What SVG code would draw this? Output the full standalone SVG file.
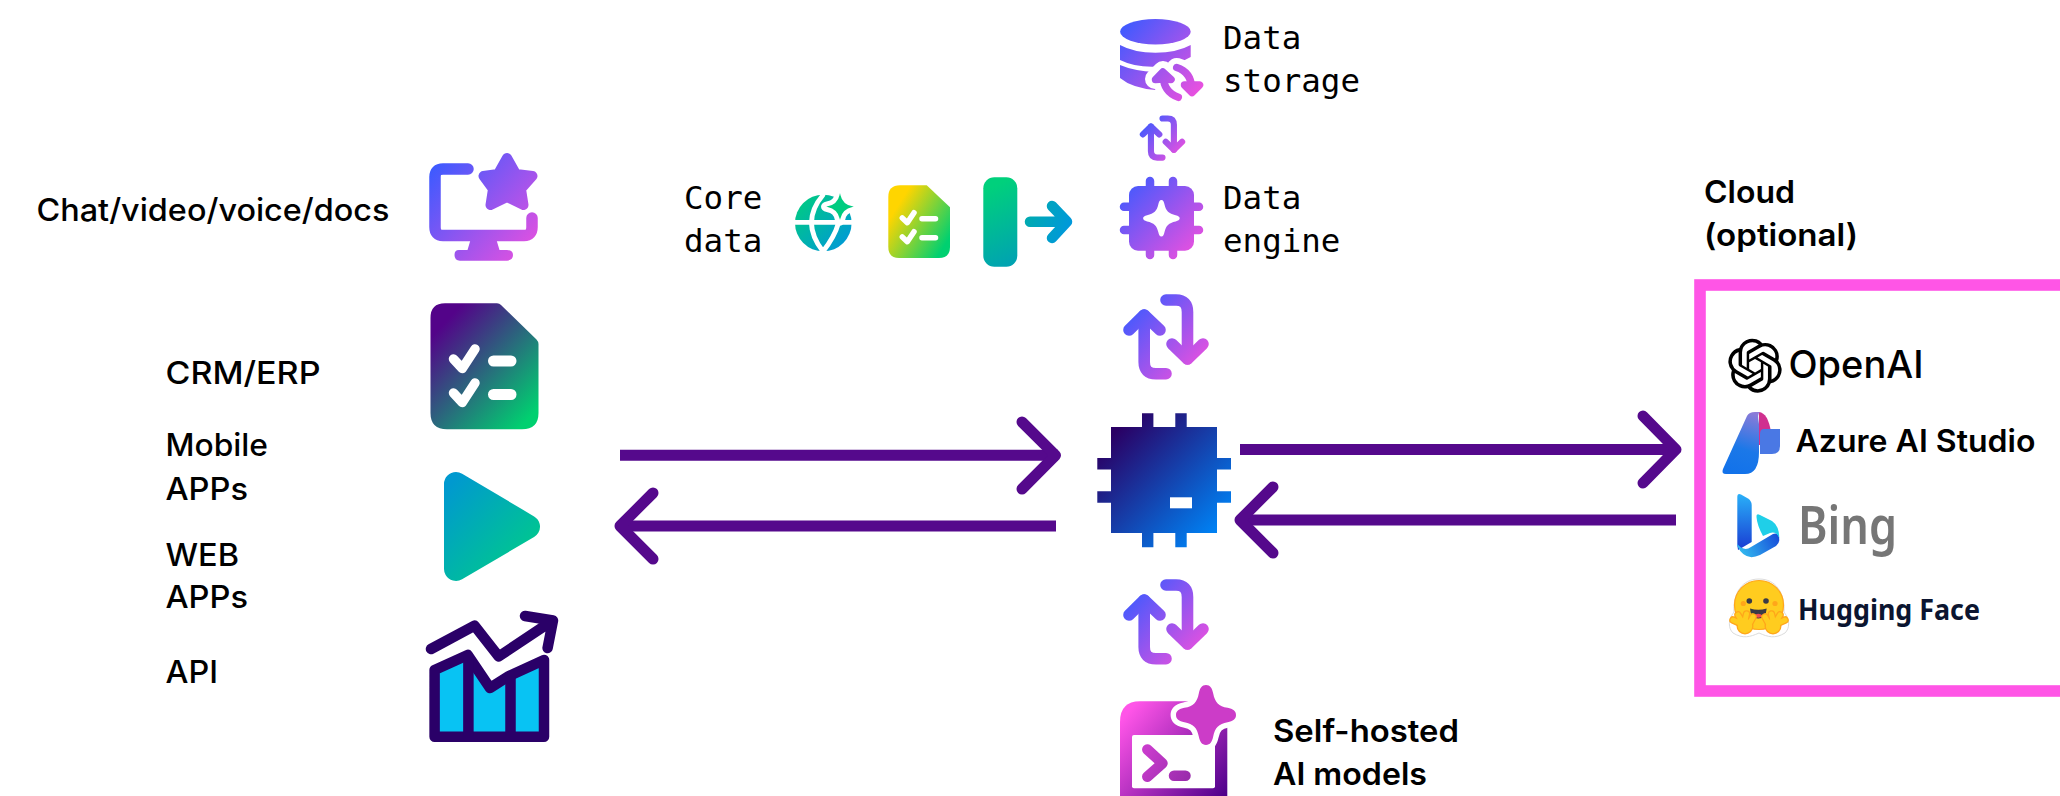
<svg xmlns="http://www.w3.org/2000/svg" xmlns:xlink="http://www.w3.org/1999/xlink" width="2060" height="796" viewBox="0 0 2060 796">
<style>
text{fill:#000;font-family:"Inter","Liberation Sans",sans-serif}
.reg{font-size:31px;font-weight:500}
.mono{font-family:"DejaVu Sans Mono","Liberation Mono",monospace;font-size:32.5px;font-weight:400}
.bold{font-size:31px;font-weight:600}
.arrow{fill:none;stroke:#55098c;stroke-width:11;stroke-linecap:round;stroke-linejoin:round}
.shaft{fill:none;stroke:#55098c;stroke-width:11}
.rs{fill:none;stroke-linecap:round;stroke-linejoin:round}
.wh{fill:none;stroke:#fff;stroke-linecap:round;stroke-linejoin:round}
</style>
<defs>
<linearGradient id="gMon" gradientUnits="userSpaceOnUse" x1="430" y1="170" x2="535" y2="262"><stop offset="0" stop-color="#3d5aff"/><stop offset="1" stop-color="#ee50de"/></linearGradient>
<linearGradient id="gDoc" gradientUnits="userSpaceOnUse" x1="438" y1="320" x2="535" y2="412"><stop offset=".05" stop-color="#530389"/><stop offset="1" stop-color="#00d070"/></linearGradient>
<linearGradient id="gPlay" gradientUnits="userSpaceOnUse" x1="444" y1="490" x2="530" y2="570"><stop offset="0" stop-color="#0099cf"/><stop offset="1" stop-color="#00cc88"/></linearGradient>
<linearGradient id="gGlobe" gradientUnits="userSpaceOnUse" x1="798" y1="198" x2="850" y2="250"><stop offset="0" stop-color="#00cc80"/><stop offset="1" stop-color="#0095de"/></linearGradient>
<linearGradient id="gDoc2" gradientUnits="userSpaceOnUse" x1="892" y1="205" x2="948" y2="240"><stop offset=".08" stop-color="#ffd500"/><stop offset="1" stop-color="#00d070"/></linearGradient>
<linearGradient id="gBar" gradientUnits="userSpaceOnUse" x1="985" y1="190" x2="1018" y2="262"><stop offset="0" stop-color="#00d07c"/><stop offset="1" stop-color="#00a2b2"/></linearGradient>
<linearGradient id="gOut" gradientUnits="userSpaceOnUse" x1="1027" y1="215" x2="1069" y2="232"><stop offset="0" stop-color="#00aab0"/><stop offset="1" stop-color="#0098dc"/></linearGradient>
<linearGradient id="gStore" gradientUnits="userSpaceOnUse" x1="1122" y1="25" x2="1200" y2="95"><stop offset="0" stop-color="#3d5aff"/><stop offset="1" stop-color="#ee50de"/></linearGradient>
<linearGradient id="gEng" gradientUnits="userSpaceOnUse" x1="1124" y1="182" x2="1198" y2="254"><stop offset="0" stop-color="#3d5aff"/><stop offset="1" stop-color="#ee50de"/></linearGradient>
<linearGradient id="gSwap" gradientUnits="userSpaceOnUse" x1="1130" y1="305" x2="1204" y2="370"><stop offset="0" stop-color="#3d5aff"/><stop offset="1" stop-color="#ee50de"/></linearGradient>
<linearGradient id="gChip" gradientUnits="userSpaceOnUse" x1="1115" y1="432" x2="1214" y2="530"><stop offset="0" stop-color="#2a0064"/><stop offset="1" stop-color="#0080f2"/></linearGradient>
<linearGradient id="gSelf" gradientUnits="userSpaceOnUse" x1="1128" y1="712" x2="1226" y2="796"><stop offset="0" stop-color="#ff55e8"/><stop offset="1" stop-color="#4d008a"/></linearGradient>
<linearGradient id="gStar" gradientUnits="userSpaceOnUse" x1="1184" y1="692" x2="1232" y2="742"><stop offset="0" stop-color="#cc3cc8"/><stop offset="1" stop-color="#55008e"/></linearGradient>
<linearGradient id="gPrompt" gradientUnits="userSpaceOnUse" x1="1147" y1="750" x2="1188" y2="778"><stop offset="0" stop-color="#c83ccc"/><stop offset="1" stop-color="#9a2cac"/></linearGradient>
<linearGradient id="gAzB" gradientUnits="userSpaceOnUse" x1="1755" y1="412" x2="1735" y2="474"><stop offset="0" stop-color="#8f7bd8"/><stop offset=".6" stop-color="#1b78e8"/><stop offset="1" stop-color="#1272ea"/></linearGradient>
<linearGradient id="gBingA" gradientUnits="userSpaceOnUse" x1="1744" y1="494" x2="1744" y2="548"><stop offset="0" stop-color="#29b0f8"/><stop offset="1" stop-color="#1a3fd4"/></linearGradient>
<linearGradient id="gBingB" gradientUnits="userSpaceOnUse" x1="1740" y1="555" x2="1780" y2="535"><stop offset="0" stop-color="#33bdf0"/><stop offset="1" stop-color="#1648d8"/></linearGradient>
<path id="spark" d="M0,-1 C.1,-1 .14,-.9 .17,-.75 C.25,-.4 .4,-.25 .78,-.17 C.92,-.14 1,-.08 1,0 C1,.08 .92,.14 .78,.17 C.4,.25 .25,.4 .17,.75 C.14,.9 .1,1 0,1 C-.1,1 -.14,.9 -.17,.75 C-.25,.4 -.4,.25 -.78,.17 C-.92,.14 -1,.08 -1,0 C-1,-.08 -.92,-.14 -.78,-.17 C-.4,-.25 -.25,-.4 -.17,-.75 C-.14,-.9 -.1,-1 0,-1Z"/>
<path id="sparkFat" d="M0,-1 C.14,-1 .2,-.9 .24,-.72 C.3,-.42 .42,-.3 .72,-.24 C.9,-.2 1,-.14 1,0 C1,.14 .9,.2 .72,.24 C.42,.3 .3,.42 .24,.72 C.2,.9 .14,1 0,1 C-.14,1 -.2,.9 -.24,.72 C-.3,.42 -.42,.3 -.72,.24 C-.9,.2 -1,.14 -1,0 C-1,-.14 -.9,-.2 -.72,-.24 C-.42,-.3 -.3,-.42 -.24,-.72 C-.2,-.9 -.14,-1 0,-1Z"/>
<g id="swap" class="rs" stroke="url(#gSwap)" stroke-width="11.6">
<path d="M1144.2 315L1144.2 362Q1144.2 373.7 1156 373.7L1166 373.7"/>
<path d="M1129 330L1144.2 315L1160 330"/>
<path d="M1166 300L1176 300Q1187.5 300 1187.5 312L1187.5 359"/>
<path d="M1172 344L1187.5 359L1203 344"/>
</g>
<g id="hand" fill="none" stroke-linecap="round" stroke-linejoin="round">
<path stroke="#ffa61a" stroke-width="7.5" d="M1744 625L1733 620M1744 625L1738 615M1744 625L1746.5 614M1747 628L1753 617"/>
<circle cx="1745" cy="626" r="8.5" fill="#ffa61a"/>
<path stroke="#ffcc1f" stroke-width="5" d="M1744 625L1733 620M1744 625L1738 615M1744 625L1746.5 614M1747 628L1753 617"/>
<circle cx="1745" cy="626" r="7.2" fill="#ffcc1f"/>
</g>
</defs>

<g id="connectors">
<path class="shaft" d="M620 455.3H1058"/>
<path class="arrow" d="M1022 422L1055.5 455.3L1022 489"/>
<path class="shaft" d="M1056 526H620"/>
<path class="arrow" d="M653 493L620 526L653 559"/>
<path class="shaft" d="M1240 449.5H1678"/>
<path class="arrow" d="M1643 416L1676 449.5L1643 483"/>
<path class="shaft" d="M1676 520H1240"/>
<path class="arrow" d="M1273 487L1240 520L1273 553"/>
<use id="swap-top" href="#swap" transform="translate(1151 118.5) scale(.53) translate(-1144.3 -300)"/>
<use id="swap-mid" href="#swap"/>
<use id="swap-low" href="#swap" transform="translate(0 285)"/>
</g>

<g id="node-chat">
<text class="reg" x="36.5" y="221" textLength="353" lengthAdjust="spacingAndGlyphs">Chat/video/voice/docs</text>
<path class="rs" stroke="url(#gMon)" stroke-width="11.5" d="M468 169H443Q435 169 435 177V227Q435 235.5 443 235.5H524Q532 235.5 532 227V218"/>
<path d="M470.5 240H496.5L499.5 250H507Q513 250 513 255T507 260.7H460Q454.5 260.7 454.5 255T460 250H467.5Z" fill="url(#gMon)"/>
<path d="M507 158L516 174L532.5 176L521 189L523.5 205L507 197L490.5 205L493 189L483.5 176L498 174Z" fill="url(#gMon)" stroke="url(#gMon)" stroke-width="10" stroke-linejoin="round"/>
</g>
<g id="node-crm">
<text class="reg" x="165.5" y="384" textLength="155" lengthAdjust="spacingAndGlyphs">CRM/ERP</text>
<path d="M445 303.3H497Q499.5 303.3 501 305L536.5 339.5Q538.5 341.7 538.5 344V413Q538.5 429.3 522 429.3H447Q430.5 429.3 430.5 413V318Q430.5 303.3 445 303.3Z" fill="url(#gDoc)"/>
<path class="wh" stroke-width="9.5" d="M453.5 359L462.3 368.5L475 349M453.5 393L462.3 402.5L475 383"/>
<path class="wh" stroke-width="11" d="M493.5 361H511M493.5 394.5H511"/>
</g>
<g id="node-mobile">
<text class="reg" x="165.5" y="456" textLength="102.5" lengthAdjust="spacingAndGlyphs">Mobile</text>
<text class="reg" x="165.5" y="500" textLength="82.5" lengthAdjust="spacingAndGlyphs">APPs</text>
<path d="M456 484L528 526.7L456 569Z" fill="url(#gPlay)" stroke="url(#gPlay)" stroke-width="24" stroke-linejoin="round"/>
</g>
<g id="node-web">
<text class="reg" x="165.5" y="565.5" textLength="73.5" lengthAdjust="spacingAndGlyphs">WEB</text>
<text class="reg" x="165.5" y="608" textLength="82.5" lengthAdjust="spacingAndGlyphs">APPs</text>
</g>
<g id="node-api">
<text class="reg" x="165.5" y="682.5" textLength="52.5" lengthAdjust="spacingAndGlyphs">API</text>
<path d="M434.6 670L467.7 655L490 688L509 676L544 660V736.7H434.6Z" fill="#08c3f3" stroke="#2a0068" stroke-width="10.5" stroke-linejoin="round"/>
<path d="M468.4 657V736M510.5 676V736" stroke="#2a0068" stroke-width="10.5" fill="none"/>
<path class="rs" stroke="#2a0068" stroke-width="10.5" d="M431 649L474.6 625.7L498.7 656.5L551 621.7M525 616L553 620.5L547.6 648"/>
</g>
<g id="node-coredata">
<text class="mono" x="684" y="209.3">Core</text>
<text class="mono" x="684" y="251.7">data</text>
<circle cx="823.3" cy="223" r="28.3" fill="url(#gGlobe)"/>
<path class="wh" stroke-width="4.8" d="M794 222.3H852M823 195Q800 222 823 251.5Q846 222 838 200" stroke-linecap="butt"/>
<use href="#spark" transform="translate(840 206.7) scale(16.5)" fill="url(#gGlobe)" stroke="#fff" stroke-width=".3"/>
<path d="M900 185.3H926.7L950 207.3V247Q950 258 939 258H899Q888.3 258 888.3 247V197Q888.3 185.3 900 185.3Z" fill="url(#gDoc2)"/>
<path class="wh" stroke-width="5.5" d="M902.3 218L907.3 222.7L914 212.7M902.3 237L907.3 241.7L914 231.7"/>
<path class="wh" stroke-width="5.5" d="M922 218.7H935.5M922 237.7H935.5"/>
<rect x="983.3" y="177.3" width="34" height="89.4" rx="11" fill="url(#gBar)"/>
<path class="rs" stroke="url(#gOut)" stroke-width="10.5" d="M1030 221.7H1066M1052 206L1067 221.7L1052 238"/>
</g>
<g id="node-storage">
<ellipse cx="1155.4" cy="31.7" rx="35.3" ry="12.7" fill="url(#gStore)"/>
<path d="M1120 45Q1134 52.7 1155.4 52.7T1190.7 45V57Q1176 66 1155.4 66.7T1120 60Z" fill="url(#gStore)"/>
<path d="M1120 65Q1134 71 1155.4 72V90Q1132 88 1120 78Z" fill="url(#gStore)"/>
<g class="rs" stroke="#fff" stroke-width="20">
<path d="M1163 76Q1163 92 1178.3 97.3M1155 79L1163 71L1171.5 79"/>
<path d="M1176.7 68Q1191 72 1192 91M1184 84L1192 92L1200 84"/>
</g>
<g class="rs" stroke="url(#gStore)" stroke-width="7.5">
<path d="M1163.3 76Q1163.5 92 1178.3 97.3"/>
<path d="M1155.5 79.5L1162.8 72L1171 79.5L1163 79Z" fill="url(#gStore)"/>
<path d="M1176.7 67.5Q1191 72 1191.7 88"/>
<path d="M1184.5 85L1192 92.5L1199.5 85L1192 85Z" fill="url(#gStore)"/>
</g>
<text class="mono" x="1223" y="49.3">Data</text>
<text class="mono" x="1223" y="91.7">storage</text>
</g>
<g id="node-engine">
<path d="M1150 181V255M1173 181V255M1124 206.7H1199M1124 230H1199" stroke="url(#gEng)" stroke-width="8.5" stroke-linecap="round" fill="none"/>
<rect x="1129" y="186" width="65" height="64.7" rx="9" fill="url(#gEng)"/>
<use href="#spark" transform="translate(1161.4 218.3) scale(18.3)" fill="#fff"/>
<text class="mono" x="1223" y="209.3">Data</text>
<text class="mono" x="1223" y="251.7">engine</text>
</g>
<g id="node-chip">
<path d="M1147.7 413.3V547.3M1181 413.3V547.3M1097.3 463.7H1231M1097.3 497H1231" stroke="url(#gChip)" stroke-width="11.4" fill="none"/>
<rect x="1111" y="427" width="106" height="106" fill="url(#gChip)"/>
<rect x="1170" y="497.3" width="22" height="11" fill="#fff"/>
</g>
<g id="node-selfhosted">
<path d="M1140 701.3H1207Q1227.3 701.3 1227.3 722V796H1120V722Q1120 701.3 1140 701.3Z" fill="url(#gSelf)"/>
<rect x="1132" y="735" width="83" height="53.3" rx="2" fill="#fff"/>
<use href="#sparkFat" transform="translate(1206 715) scale(30)" fill="#fff" stroke="#fff" stroke-width=".36"/>
<use href="#sparkFat" transform="translate(1206 715) scale(30)" fill="url(#gStar)"/>
<path class="rs" stroke="url(#gPrompt)" stroke-width="10.5" d="M1147.3 749.5L1162.5 763.3L1147.3 776.7M1174 775.7H1185.5"/>
<text class="bold" x="1273" y="742" textLength="186" lengthAdjust="spacingAndGlyphs">Self-hosted</text>
<text class="bold" x="1273" y="785.3" textLength="154" lengthAdjust="spacingAndGlyphs">AI models</text>
</g>
<g id="node-cloud">
<text class="bold" x="1704" y="203" textLength="91" lengthAdjust="spacingAndGlyphs">Cloud</text>
<text class="bold" x="1704" y="246" textLength="154" lengthAdjust="spacingAndGlyphs">(optional)</text>
<rect x="1700" y="285" width="500" height="406" fill="none" stroke="#ff55e6" stroke-width="11.6"/>
</g>
<g id="node-openai">
<path transform="translate(1728 338.7) scale(2.25)" fill="#000" d="M22.2819 9.8211a5.9847 5.9847 0 0 0-.5157-4.9108 6.0462 6.0462 0 0 0-6.5098-2.9A6.0651 6.0651 0 0 0 4.9807 4.1818a5.9847 5.9847 0 0 0-3.9977 2.9 6.0462 6.0462 0 0 0 .7427 7.0966 5.98 5.98 0 0 0 .511 4.9107 6.051 6.051 0 0 0 6.5146 2.9001A5.9847 5.9847 0 0 0 13.2599 24a6.0557 6.0557 0 0 0 5.7718-4.2058 5.9894 5.9894 0 0 0 3.9977-2.9001 6.0557 6.0557 0 0 0-.7475-7.0729zm-9.022 12.6081a4.4755 4.4755 0 0 1-2.8764-1.0408l.1419-.0804 4.7783-2.7582a.7948.7948 0 0 0 .3927-.6813v-6.7369l2.02 1.1686a.071.071 0 0 1 .038.052v5.5826a4.504 4.504 0 0 1-4.4945 4.4944zm-9.6607-4.1254a4.4708 4.4708 0 0 1-.5346-3.0137l.142.0852 4.783 2.7582a.7712.7712 0 0 0 .7806 0l5.8428-3.3685v2.3324a.0804.0804 0 0 1-.0332.0615L9.74 19.9502a4.4992 4.4992 0 0 1-6.1408-1.6464zM2.3408 7.8956a4.485 4.485 0 0 1 2.3655-1.9728V11.6a.7664.7664 0 0 0 .3879.6765l5.8144 3.3543-2.0201 1.1685a.0757.0757 0 0 1-.071 0l-4.8303-2.7865A4.504 4.504 0 0 1 2.3408 7.872zm16.5963 3.8558L13.1038 8.364 15.1192 7.2a.0757.0757 0 0 1 .071 0l4.8303 2.7913a4.4944 4.4944 0 0 1-.6765 8.1042v-5.6772a.79.79 0 0 0-.407-.667zm2.0107-3.0231l-.142-.0852-4.7735-2.7818a.7759.7759 0 0 0-.7854 0L9.409 9.2297V6.8974a.0662.0662 0 0 1 .0284-.0615l4.8303-2.7866a4.4992 4.4992 0 0 1 6.6802 4.66zM8.3065 12.863l-2.02-1.1638a.0804.0804 0 0 1-.038-.0567V6.0742a4.4992 4.4992 0 0 1 7.3757-3.4537l-.142.0805L8.704 5.459a.7948.7948 0 0 0-.3927.6813zm1.0976-2.3654l2.602-1.4998 2.6069 1.4998v2.9994l-2.5974 1.4997-2.6067-1.4997Z"/>
<text x="1788.5" y="378.3" font-size="38" font-weight="500" textLength="135" lengthAdjust="spacingAndGlyphs">OpenAI</text>
</g>
<g id="node-azure">
<path d="M1759 412Q1768 413 1771 432V445H1759Z" fill="#d0308f"/>
<path d="M1764 429H1780V446Q1780 454 1772 454H1760V434Q1760 429 1764 429Z" fill="#4a78e4"/>
<path d="M1747 416Q1749 412 1755 412H1760Q1757 413 1759 424V452Q1759 474 1745 474H1726Q1721 474 1723 469Z" fill="url(#gAzB)"/>
<text x="1795.5" y="451.7" font-size="31" font-weight="600" textLength="240" lengthAdjust="spacingAndGlyphs">Azure AI Studio</text>
</g>
<g id="node-bing">
<path d="M1737.3 497Q1737.3 493 1741 494.5L1748 498.5Q1751.7 501 1751.7 505V542L1738 550L1737.3 545Z" fill="url(#gBingA)"/>
<path d="M1737.3 544Q1744 552 1751 547L1773 534Q1779.3 532 1779.3 540Q1779.3 543 1776 546L1760 555Q1745 562 1737.3 546Z" fill="url(#gBingB)"/>
<path d="M1756.5 517Q1756 513 1760 515L1772 521Q1779.3 526 1779.3 538Q1776 531 1770 533L1763 536Q1757 525 1756.5 517Z" fill="#1fcfe8"/>
<text x="1798" y="544" font-size="52" font-weight="600" style="font-family:'Noto Sans',sans-serif;fill:#767676" textLength="99" lengthAdjust="spacingAndGlyphs">Bing</text>
</g>
<g id="node-huggingface">
<path d="M1759 579C1776 579 1785 593 1784 612C1790 620 1790 628 1785 633C1775 639 1768 637 1759 633C1750 637 1743 639 1733 633C1728 628 1728 620 1734 612C1733 593 1742 579 1759 579Z" fill="#fff" stroke="#dcdcdc" stroke-width="1"/>
<circle cx="1759" cy="605" r="24.5" fill="#ffcc1f" stroke="#ffa61a" stroke-width="1.2"/>
<circle cx="1749.3" cy="601" r="2.8" fill="#3a3b45"/><circle cx="1766" cy="601" r="2.8" fill="#3a3b45"/>
<circle cx="1743.3" cy="603.5" r="2.6" fill="#ffa61a"/><circle cx="1775" cy="603.5" r="2.6" fill="#ffa61a"/>
<path d="M1750 608.5Q1758.3 611 1766.7 608.5Q1766 618.5 1758.3 618.5Q1750.5 618.5 1750 608.5Z" fill="#3a3b45"/>
<path d="M1753.5 616Q1758.3 611.5 1763 616Q1758.3 619.5 1753.5 616Z" fill="#ef4e4e"/>
<use href="#hand"/>
<use href="#hand" transform="translate(3518 0) scale(-1 1)"/>
<text x="1798" y="620" font-size="29" font-weight="700" style="font-family:'Noto Sans',sans-serif;fill:#0b1530" textLength="182" lengthAdjust="spacingAndGlyphs">Hugging Face</text>
</g>
</svg>
